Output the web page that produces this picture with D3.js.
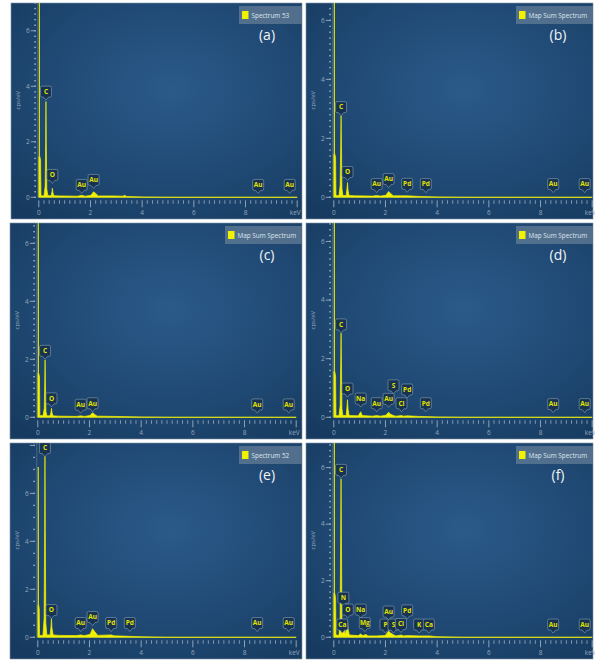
<!DOCTYPE html>
<html>
<head>
<meta charset="utf-8">
<script src="https://cdn.jsdelivr.net/npm/d3@7"></script>
<style>
  html, body { margin: 0; padding: 0; background: #fff; }
  svg { display: block; }
</style>
</head>
<body>
<svg id="chart" width="595" height="660"></svg>
<script>
// EDS spectra, six panels (a)-(f). Energy in keV, intensity in cps/eV.
var PANEL_TAGS = ["(a)", "(b)", "(c)", "(d)", "(e)", "(f)"];
var LEGENDS = ["Spectrum 53", "Map Sum Spectrum", "Map Sum Spectrum",
               "Map Sum Spectrum", "Spectrum 52", "Map Sum Spectrum"];
var Y_MAX = [7.0, 6.59, 6.7, 6.63, 8.1, 6.87];
var Y_MINOR = [0.2, 0.2, 0.2, 0.2, 0.5, 0.2];
var X_TICKS = [0, 2, 4, 6, 8];
var Y_TICKS = [0, 2, 4, 6, 8];

// spectrum traces [keV, cps/eV]
var SPEC_A = [[0,0],[0,1.45],[0.015,1.5],[0.022,7.2],[0.03,1.5],[0.07,1.35],[0.085,0.06],
  [0.2,0.05],[0.245,0.4],[0.265,2.0],[0.277,3.45],[0.29,2.0],[0.31,0.3],[0.35,0.06],
  [0.48,0.06],[0.51,0.2],[0.525,0.33],[0.545,0.18],[0.58,0.06],[0.8,0.05],[1.5,0.04],
  [1.66,0.07],[1.8,0.04],[2.02,0.07],[2.12,0.2],[2.2,0.14],[2.3,0.05],[2.9,0.05],
  [3.25,0.04],[3.32,0.07],[3.4,0.03],[4.0,0.01],[5,0],[10,0]];
var SPEC_B = [[0,0],[0,1.45],[0.015,1.5],[0.022,7.0],[0.03,1.5],[0.07,1.35],[0.085,0.06],
  [0.2,0.05],[0.245,0.4],[0.268,1.8],[0.282,2.77],[0.295,1.8],[0.315,0.3],[0.35,0.06],
  [0.48,0.06],[0.51,0.3],[0.53,0.5],[0.55,0.25],[0.59,0.06],[0.8,0.05],[1.5,0.04],
  [1.66,0.06],[1.8,0.04],[2.02,0.07],[2.12,0.2],[2.2,0.13],[2.3,0.05],[2.84,0.05],
  [3.3,0.03],[4.0,0.01],[5,0],[10,0]];
var SPEC_C = [[0,0],[0,1.5],[0.015,1.57],[0.02,7.0],[0.028,1.55],[0.065,1.4],[0.08,0.06],
  [0.2,0.05],[0.25,0.3],[0.27,1.3],[0.282,1.98],[0.295,1.2],[0.315,0.2],[0.35,0.05],
  [0.48,0.05],[0.51,0.18],[0.53,0.31],[0.55,0.15],[0.59,0.05],[0.8,0.04],[1.5,0.03],
  [1.66,0.05],[1.8,0.03],[2.02,0.06],[2.12,0.16],[2.2,0.1],[2.3,0.04],[3.0,0.03],
  [4.0,0.01],[5,0],[10,0]];
var SPEC_D = [[0,0],[0,1.55],[0.015,1.6],[0.022,7.0],[0.03,1.6],[0.07,1.4],[0.085,0.06],
  [0.2,0.05],[0.245,0.4],[0.268,1.9],[0.282,2.87],[0.295,1.9],[0.315,0.3],[0.35,0.06],
  [0.48,0.06],[0.51,0.35],[0.53,0.6],[0.55,0.3],[0.59,0.06],[0.95,0.05],[1.04,0.19],
  [1.1,0.06],[1.5,0.04],[1.66,0.06],[1.8,0.04],[2.02,0.07],[2.12,0.17],[2.2,0.1],
  [2.31,0.06],[2.4,0.04],[2.62,0.06],[2.7,0.04],[2.84,0.05],[3.3,0.03],[4.0,0.01],
  [5,0],[10,0]];
var SPEC_E = [[0,0],[0,1.3],[0.012,1.4],[0.018,7.1],[0.026,1.4],[0.055,1.2],[0.07,0.08],
  [0.2,0.08],[0.245,0.8],[0.265,4.5],[0.277,7.55],[0.29,4.5],[0.31,0.6],[0.35,0.1],
  [0.48,0.1],[0.51,0.45],[0.528,0.78],[0.548,0.4],[0.59,0.1],[0.8,0.08],[1.5,0.07],
  [1.66,0.1],[1.8,0.07],[2.02,0.12],[2.12,0.36],[2.2,0.24],[2.32,0.08],[2.84,0.1],
  [2.95,0.06],[3.3,0.05],[4.0,0.02],[5,0],[10,0]];
var SPEC_F = [[0,0],[0,1.55],[0.015,1.6],[0.022,7.2],[0.03,1.6],[0.07,1.4],[0.085,0.08],
  [0.2,0.07],[0.245,0.6],[0.265,3.6],[0.28,5.6],[0.295,3.6],[0.315,0.5],[0.34,0.28],
  [0.39,0.3],[0.44,0.1],[0.5,0.35],[0.525,0.6],[0.55,0.3],[0.6,0.08],[0.95,0.06],
  [1.04,0.12],[1.12,0.06],[1.25,0.1],[1.32,0.05],[1.66,0.05],[1.95,0.06],[2.01,0.08],
  [2.12,0.22],[2.2,0.15],[2.31,0.09],[2.4,0.05],[2.62,0.08],[2.7,0.05],[2.84,0.06],
  [3.31,0.05],[3.69,0.05],[4.0,0.02],[5,0],[10,0]];

// element markers [label, keV, marker tip in cps/eV]
var PEAKS_A = [["C",0.277,3.5],["O",0.525,0.5],["Au",1.66,0.14],["Au",2.12,0.32],
  ["Au",8.49,0.14],["Au",9.71,0.14]];
var PEAKS_B = [["C",0.282,2.77],["O",0.53,0.57],["Au",1.66,0.16],["Au",2.12,0.33],
  ["Pd",2.84,0.17],["Pd",3.56,0.16],["Au",8.49,0.16],["Au",9.71,0.16]];
var PEAKS_C = [["C",0.282,2.0],["O",0.53,0.36],["Au",1.66,0.14],["Au",2.12,0.19],
  ["Au",8.49,0.15],["Au",9.71,0.15]];
var PEAKS_D = [["C",0.282,2.88],["O",0.53,0.69],["Na",1.04,0.35],["Au",1.66,0.19],
  ["Au",2.12,0.34],["S",2.31,0.8],["Cl",2.62,0.19],["Pd",2.84,0.66],["Pd",3.56,0.19],
  ["Au",8.49,0.16],["Au",9.71,0.16]];
var PEAKS_E = [["C",0.277,7.53],["O",0.528,0.78],["Au",1.66,0.24],["Au",2.12,0.49],
  ["Pd",2.84,0.24],["Pd",3.56,0.24],["Au",8.49,0.24],["Au",9.71,0.24]];
var PEAKS_F = [["C",0.28,5.62],["N",0.37,1.1],["Ca",0.33,0.15],["O",0.54,0.68],
  ["Na",1.04,0.68],["Mg",1.2,0.2],["P",2.0,0.15],["Au",2.12,0.61],["S",2.31,0.15],
  ["Cl",2.6,0.17],["Pd",2.84,0.65],["K",3.3,0.15],["Ca",3.68,0.15],
  ["Au",8.49,0.15],["Au",9.71,0.15]];

var SPECTRA = [SPEC_A, SPEC_B, SPEC_C, SPEC_D, SPEC_E, SPEC_F];
var PEAKS = [PEAKS_A, PEAKS_B, PEAKS_C, PEAKS_D, PEAKS_E, PEAKS_F];

// panel frames on the page
var FRAMES = [{x: 11, y: 3, w: 291, h: 216}, {x: 306, y: 3, w: 287, h: 216},
              {x: 10, y: 223, w: 292, h: 216}, {x: 306, y: 223, w: 287, h: 216},
              {x: 10, y: 443, w: 292, h: 216}, {x: 306, y: 443, w: 287, h: 216}];

var YELLOW = "#f0f000", AXIS = "#8ea3ba", TXT = "#93a8bf";
var svg = d3.select("#chart");
var defs = svg.append("defs");
var grad = defs.append("radialGradient").attr("id", "bg")
  .attr("cx", "55%").attr("cy", "40%").attr("r", "75%");
grad.append("stop").attr("offset", "0%").attr("stop-color", "#2b5a89");
grad.append("stop").attr("offset", "55%").attr("stop-color", "#204a75");
grad.append("stop").attr("offset", "100%").attr("stop-color", "#173b60");

function markerPath(x, tip) { // rounded box with a pointer underneath
  var w = 11, h = 11, p = 3, r = 1.5, l = x - w / 2, t = tip - p - h, b = tip - p;
  return "M" + (l + r) + "," + t + "H" + (l + w - r) + "Q" + (l + w) + "," + t + " " + (l + w) + "," + (t + r) +
    "V" + (b - r) + "Q" + (l + w) + "," + b + " " + (l + w - r) + "," + b +
    "H" + (x + 2.5) + "L" + x + "," + tip + "L" + (x - 2.5) + "," + b +
    "H" + (l + r) + "Q" + l + "," + b + " " + l + "," + (b - r) +
    "V" + (t + r) + "Q" + l + "," + t + " " + (l + r) + "," + t + "Z";
}

FRAMES.forEach(function (f, i) {
  var g = svg.append("g").attr("transform", "translate(" + f.x + "," + f.y + ")");
  defs.append("clipPath").attr("id", "clip" + i)
    .append("rect").attr("width", f.w).attr("height", f.h);
  g.append("rect").attr("width", f.w).attr("height", f.h)
    .attr("fill", "url(#bg)").attr("stroke", "#7f93a8").attr("stroke-width", 0.6);

  var x0 = 27.8, zeroY = 194.3;
  var xs = d3.scaleLinear().domain([0, 10]).range([x0, x0 + 258.4]);
  var ys = d3.scaleLinear().domain([0, Y_MAX[i]]).range([zeroY, 0]);
  var inner = g.append("g").attr("clip-path", "url(#clip" + i + ")");

  // y axis
  inner.append("line").attr("x1", x0 - 1).attr("x2", x0 - 1).attr("y1", 0).attr("y2", zeroY)
    .attr("stroke", AXIS).attr("stroke-opacity", 0.5).attr("stroke-width", 0.8);
  d3.range(0, Y_MAX[i] + 0.001, Y_MINOR[i]).forEach(function (v) {
    inner.append("rect").attr("x", x0 - 4.6).attr("y", ys(v) - 0.7)
      .attr("width", 1.8).attr("height", 1.4).attr("fill", AXIS);
  });
  Y_TICKS.filter(function (v) { return v <= Y_MAX[i]; }).forEach(function (v) {
    inner.append("line").attr("x1", x0 - 8).attr("x2", x0 - 3)
      .attr("y1", ys(v)).attr("y2", ys(v)).attr("stroke", AXIS).attr("stroke-width", 1);
    if (ys(v) > 6) {
      inner.append("text").attr("x", x0 - 9).attr("y", ys(v) + 2.3)
        .attr("text-anchor", "end").attr("fill", TXT)
        .style("font", "6.5px 'Open Sans', sans-serif").text(v);
    }
  });
  g.append("text").attr("transform", "translate(8.5," + (zeroY / 2) + ") rotate(-90)")
    .attr("text-anchor", "middle").attr("fill", TXT)
    .style("font", "6px 'Open Sans', sans-serif").text("cps/eV");

  // x axis
  inner.append("line").attr("x1", x0 - 1).attr("x2", xs(10)).attr("y1", zeroY).attr("y2", zeroY)
    .attr("stroke", AXIS).attr("stroke-opacity", 0.6).attr("stroke-width", 0.8);
  d3.range(0, 10.001, 0.2).forEach(function (v) {
    var major = Math.abs(v / 2 - Math.round(v / 2)) < 1e-6;
    inner.append("line").attr("x1", xs(v)).attr("x2", xs(v))
      .attr("y1", zeroY + 3).attr("y2", zeroY + (major ? 10 : 6.5))
      .attr("stroke", AXIS).attr("stroke-width", major ? 1 : 0.9);
  });
  X_TICKS.forEach(function (v) {
    g.append("text").attr("x", xs(v)).attr("y", zeroY + 17.5).attr("text-anchor", "middle")
      .attr("fill", TXT).style("font", "6.5px 'Open Sans', sans-serif").text(v);
  });
  g.append("text").attr("x", xs(10) - 2).attr("y", zeroY + 17.5).attr("text-anchor", "middle")
    .attr("fill", TXT).style("font", "6.5px 'Open Sans', sans-serif").text("keV");

  // spectrum
  var area = d3.area().x(function (d) { return xs(d[0]); })
    .y0(zeroY).y1(function (d) { return ys(d[1]); });
  inner.append("path").datum(SPECTRA[i]).attr("d", area)
    .attr("fill", YELLOW).attr("stroke", YELLOW).attr("stroke-width", 0.7)
    .attr("stroke-linejoin", "round");

  // element markers
  PEAKS[i].forEach(function (p) {
    var px = xs(p[1]), tip = ys(p[2]);
    inner.append("path").attr("d", markerPath(px, tip))
      .attr("fill", "#173350").attr("stroke", "#8aa2bb").attr("stroke-width", 0.6);
    inner.append("text").attr("x", px).attr("y", tip - 6.2).attr("text-anchor", "middle")
      .attr("fill", "#e4e400").style("font", "bold 6.5px 'Open Sans', sans-serif").text(p[0]);
  });

  // legend
  var lw = LEGENDS[i].length > 12 ? 77 : 63;
  var lg = g.append("g").attr("transform", "translate(" + (f.w - lw) + ",3)");
  lg.append("rect").attr("width", lw).attr("height", 18)
    .attr("fill", "#56738f").attr("fill-opacity", 0.92);
  lg.append("rect").attr("x", 3).attr("y", 5).attr("width", 6.5).attr("height", 8)
    .attr("fill", "#f2f200");
  lg.append("text").attr("x", 12.5).attr("y", 11.5).attr("fill", "#dfe6ee")
    .style("font", "6.4px 'Open Sans', sans-serif").text(LEGENDS[i]);

  // panel tag
  g.append("text").attr("x", f.w - 35).attr("y", 37).attr("text-anchor", "middle")
    .attr("fill", "#f2f4f6").style("font", "14px 'Open Sans', sans-serif").text(PANEL_TAGS[i]);
});
</script>
</body>
</html>
